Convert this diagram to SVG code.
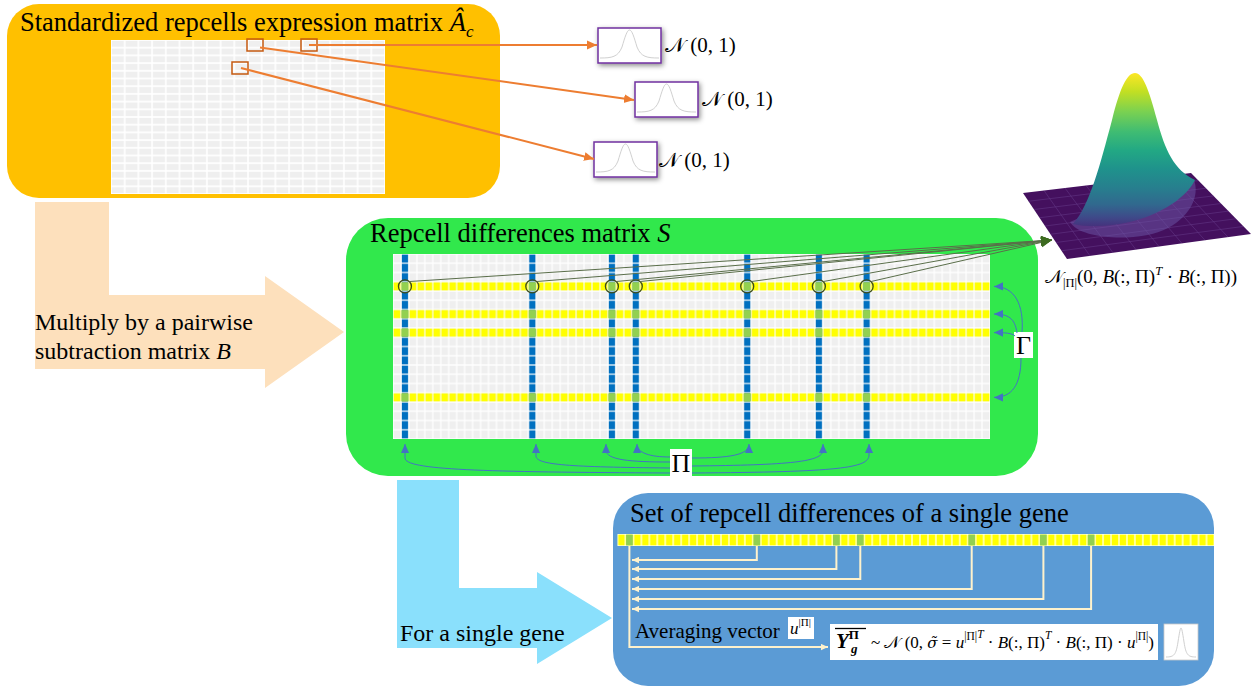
<svg xmlns="http://www.w3.org/2000/svg" width="1255" height="688" viewBox="0 0 1255 688">
<style>
text{font-family:"Liberation Serif","Times New Roman","DejaVu Serif",serif;fill:#000}
.t{font-size:26.5px}
.it{font-style:italic}
.o{stroke:#ed7d31;stroke-width:2;fill:none}
.sel{fill:none;stroke:#c55a11;stroke-width:1.5}
.nb{fill:#fff;stroke:#7030a0;stroke-width:1.5}
.gs{fill:none;stroke:#d0d0d0;stroke-width:1}
.bl{fill:none;stroke:#4472c4;stroke-width:1}
.dg{fill:none;stroke:#5a6e4a;stroke-width:1}
.cr{fill:none;stroke:#fff2cc;stroke-width:2}
.circ{fill:none;stroke:#3d4d1e;stroke-width:1.3}
.gc{fill:#92d050}
.wb{fill:#fff}
.mesh{stroke:#7a55a5;stroke-width:0.6;opacity:0.55}
</style>
<defs>
<pattern id="pOr" x="111" y="40" width="13.7" height="7.7" patternUnits="userSpaceOnUse"><rect x="0.8" y="0.8" width="12.1" height="6.1" fill="#efefef"/></pattern>
<pattern id="pG" x="393" y="254" width="7.96" height="9.25" patternUnits="userSpaceOnUse"><rect x="0.6" y="0.6" width="6.76" height="8.05" fill="#efefef"/></pattern>
<pattern id="pY" x="393" y="254" width="7.96" height="9.25" patternUnits="userSpaceOnUse"><rect x="0.6" y="0.6" width="6.76" height="8.05" fill="#ffff00"/></pattern>
<pattern id="pB" x="393" y="254" width="7.96" height="9.25" patternUnits="userSpaceOnUse"><rect x="0.9" y="0.6" width="6.2" height="8.05" fill="#0070c0"/></pattern>
<pattern id="pY2" x="617.5" y="534" width="7.96" height="12" patternUnits="userSpaceOnUse"><rect x="0.6" y="0.6" width="6.76" height="10.8" fill="#ffff00"/></pattern>
<marker id="mO" viewBox="0 0 10 10" refX="10" refY="5" markerWidth="10" markerHeight="10" markerUnits="userSpaceOnUse" orient="auto"><path d="M0,0.5 L10,5 L0,9.5 z" fill="#ed7d31"/></marker>
<marker id="mB" viewBox="0 0 10 10" refX="10" refY="5" markerWidth="9" markerHeight="9" markerUnits="userSpaceOnUse" orient="auto"><path d="M0,0.5 L10,5 L0,9.5 z" fill="#4472c4"/></marker>
<marker id="mD" viewBox="0 0 10 10" refX="10" refY="5" markerWidth="11" markerHeight="11" markerUnits="userSpaceOnUse" orient="auto"><path d="M0,0.5 L10,5 L0,9.5 z" fill="#3d6b21"/></marker>
<marker id="mC" viewBox="0 0 10 10" refX="10" refY="5" markerWidth="7" markerHeight="7" markerUnits="userSpaceOnUse" orient="auto"><path d="M0,0.5 L10,5 L0,9.5 z" fill="#fff2cc"/></marker>
<linearGradient id="vir" x1="0" y1="73" x2="0" y2="228" gradientUnits="userSpaceOnUse">
<stop offset="0" stop-color="#fde725"/><stop offset="0.12" stop-color="#c2df23"/><stop offset="0.25" stop-color="#7ad151"/><stop offset="0.38" stop-color="#3fbc73"/><stop offset="0.5" stop-color="#22a884"/><stop offset="0.62" stop-color="#1f928c"/><stop offset="0.74" stop-color="#277f8e"/><stop offset="0.85" stop-color="#31688e"/><stop offset="0.93" stop-color="#3e4a89"/><stop offset="1" stop-color="#472d7b"/>
</linearGradient>
<filter id="sh" x="-20%" y="-20%" width="150%" height="170%"><feDropShadow dx="1.5" dy="2" stdDeviation="2.5" flood-color="#000" flood-opacity="0.45"/></filter>
<path id="gcurve" d="M2,33 C14,33 20,32 24,22 C27,12 29,5 31.5,5 C34,5 36,12 39,22 C43,32 49,33 61,33"/>
</defs>

<!-- block arrows -->
<g id="arrow-multiply">
<polygon points="35,202 109,202 109,295 265,295 265,276 344,332 265,388 265,369 35,369" fill="#fde0bc"/>
<text x="35" y="330" font-size="24">Multiply by a pairwise</text>
<text x="35" y="359" font-size="24">subtraction matrix <tspan class="it">B</tspan></text>
</g>
<g id="arrow-single">
<polygon points="397,480 459,480 459,588 537,588 537,572 612,618 537,664 537,648 397,648" fill="#8ae0fc"/>
<text x="400" y="641" font-size="24">For a single gene</text>
</g>

<!-- orange node -->
<g id="node-standardized">
<rect x="7" y="4" width="493" height="194" rx="32" fill="#ffc000"/>
<text class="t" x="20" y="31">Standardized repcells expression matrix <tspan class="it">Â</tspan><tspan class="it" font-size="17" dy="6">c</tspan></text>
<rect x="111" y="40" width="274" height="154" fill="#fff"/>
<rect x="111" y="40" width="274" height="154" fill="url(#pOr)"/>
<rect class="sel" x="247" y="39" width="16" height="12"/>
<rect class="sel" x="301" y="39" width="16" height="12"/>
<rect class="sel" x="232" y="62" width="16" height="12"/>
</g>

<!-- normal boxes -->
<g id="node-n1">
<rect class="nb" x="598" y="28" width="63" height="35" filter="url(#sh)"/>
<use href="#gcurve" class="gs" x="598" y="25"/>
<text x="665" y="52" font-size="21">𝒩 (0, 1)</text>
</g>
<g id="node-n2">
<rect class="nb" x="635" y="82" width="63" height="35" filter="url(#sh)"/>
<use href="#gcurve" class="gs" x="635" y="79"/>
<text x="702" y="106" font-size="21">𝒩 (0, 1)</text>
</g>
<g id="node-n3">
<rect class="nb" x="594" y="142" width="63" height="35" filter="url(#sh)"/>
<use href="#gcurve" class="gs" x="594" y="139"/>
<text x="659" y="167" font-size="21">𝒩 (0, 1)</text>
</g>

<!-- 3D surface -->
<g id="node-surface">
<polygon points="1023,193 1191,173 1251,234 1067,259" fill="#44105e"/>
<g class="mesh">
<line x1="1028.5" y1="201.25" x2="1198.5" y2="180.6"/><line x1="1034" y1="209.5" x2="1206" y2="188.25"/><line x1="1039.5" y1="217.75" x2="1213.5" y2="195.9"/><line x1="1045" y1="226" x2="1221" y2="203.5"/><line x1="1050.5" y1="234.25" x2="1228.5" y2="211.1"/><line x1="1056" y1="242.5" x2="1236" y2="218.75"/><line x1="1061.5" y1="250.75" x2="1243.5" y2="226.4"/>
<line x1="1044" y1="190.5" x2="1090" y2="255.9"/><line x1="1065" y1="188" x2="1113" y2="252.75"/><line x1="1086" y1="185.5" x2="1136" y2="249.6"/><line x1="1107" y1="183" x2="1159" y2="246.5"/><line x1="1128" y1="180.5" x2="1182" y2="243.4"/><line x1="1149" y1="178" x2="1205" y2="240.25"/><line x1="1170" y1="175.5" x2="1228" y2="237.1"/>
</g>
<path d="M1070,222 C1080,240 1140,243 1168,228 C1190,216 1200,196 1194,180 L1120,200 Z" fill="#6b58a8" opacity="0.5"/>
<path d="M1073,224 C1090,205 1100,165 1112,120 C1120,88 1127,73 1135,73 C1143,73 1149,90 1157,120 C1165,150 1174,170 1195,180 C1185,200 1155,218 1120,224 C1100,227 1085,227 1073,224 Z" fill="url(#vir)"/>
<text x="1045" y="283" font-size="19">𝒩<tspan font-size="12.5" dy="4">|Π|</tspan><tspan dy="-4">(0, </tspan><tspan class="it">B</tspan>(:, Π)<tspan class="it" font-size="12.5" dy="-8">T</tspan><tspan dy="8"> · </tspan><tspan class="it">B</tspan>(:, Π))</text>
</g>

<!-- green node -->
<g id="node-differences">
<rect x="346" y="218" width="692" height="258" rx="42" fill="#31e84c"/>
<text class="t" x="370" y="242">Repcell differences matrix <tspan class="it">S</tspan></text>
<rect x="393" y="254" width="597" height="185" fill="#fff"/>
<rect x="393" y="254" width="597" height="185" fill="url(#pG)"/>
<rect x="393" y="281.75" width="597" height="9.25" fill="url(#pY)"/>
<rect x="393" y="309.5" width="597" height="9.25" fill="url(#pY)"/>
<rect x="393" y="328" width="597" height="9.25" fill="url(#pY)"/>
<rect x="393" y="392.75" width="597" height="9.25" fill="url(#pY)"/>
<rect x="400.96" y="254" width="7.96" height="185" fill="url(#pB)"/>
<rect x="528.32" y="254" width="7.96" height="185" fill="url(#pB)"/>
<rect x="607.92" y="254" width="7.96" height="185" fill="url(#pB)"/>
<rect x="631.8" y="254" width="7.96" height="185" fill="url(#pB)"/>
<rect x="743.24" y="254" width="7.96" height="185" fill="url(#pB)"/>
<rect x="814.88" y="254" width="7.96" height="185" fill="url(#pB)"/>
<rect x="862.64" y="254" width="7.96" height="185" fill="url(#pB)"/>
<g class="gc">
<rect x="401.56" y="282.35" width="6.76" height="8.05"/><rect x="528.92" y="282.35" width="6.76" height="8.05"/><rect x="608.52" y="282.35" width="6.76" height="8.05"/><rect x="632.4" y="282.35" width="6.76" height="8.05"/><rect x="743.84" y="282.35" width="6.76" height="8.05"/><rect x="815.48" y="282.35" width="6.76" height="8.05"/><rect x="863.24" y="282.35" width="6.76" height="8.05"/>
<rect x="401.56" y="310.1" width="6.76" height="8.05"/><rect x="528.92" y="310.1" width="6.76" height="8.05"/><rect x="608.52" y="310.1" width="6.76" height="8.05"/><rect x="632.4" y="310.1" width="6.76" height="8.05"/><rect x="743.84" y="310.1" width="6.76" height="8.05"/><rect x="815.48" y="310.1" width="6.76" height="8.05"/><rect x="863.24" y="310.1" width="6.76" height="8.05"/>
<rect x="401.56" y="328.6" width="6.76" height="8.05"/><rect x="528.92" y="328.6" width="6.76" height="8.05"/><rect x="608.52" y="328.6" width="6.76" height="8.05"/><rect x="632.4" y="328.6" width="6.76" height="8.05"/><rect x="743.84" y="328.6" width="6.76" height="8.05"/><rect x="815.48" y="328.6" width="6.76" height="8.05"/><rect x="863.24" y="328.6" width="6.76" height="8.05"/>
<rect x="401.56" y="393.35" width="6.76" height="8.05"/><rect x="528.92" y="393.35" width="6.76" height="8.05"/><rect x="608.52" y="393.35" width="6.76" height="8.05"/><rect x="632.4" y="393.35" width="6.76" height="8.05"/><rect x="743.84" y="393.35" width="6.76" height="8.05"/><rect x="815.48" y="393.35" width="6.76" height="8.05"/><rect x="863.24" y="393.35" width="6.76" height="8.05"/>
</g>
<g class="circ">
<circle cx="404.94" cy="286.4" r="6.5"/><circle cx="532.3" cy="286.4" r="6.5"/><circle cx="611.9" cy="286.4" r="6.5"/><circle cx="635.78" cy="286.4" r="6.5"/><circle cx="747.22" cy="286.4" r="6.5"/><circle cx="818.86" cy="286.4" r="6.5"/><circle cx="866.62" cy="286.4" r="6.5"/>
</g>
</g>

<!-- blue node -->
<g id="node-single-gene">
<rect x="613" y="493" width="601" height="193" rx="35" fill="#5b9bd5"/>
<text class="t" x="630" y="522">Set of repcell differences of a single gene</text>
<rect x="617.5" y="534" width="596.5" height="12" fill="#fff"/>
<rect x="617.5" y="534" width="596.5" height="12" fill="url(#pY2)"/>
<g class="gc">
<rect x="626.06" y="534.6" width="6.76" height="10.8"/><rect x="753.42" y="534.6" width="6.76" height="10.8"/><rect x="833.02" y="534.6" width="6.76" height="10.8"/><rect x="856.9" y="534.6" width="6.76" height="10.8"/><rect x="968.34" y="534.6" width="6.76" height="10.8"/><rect x="1039.98" y="534.6" width="6.76" height="10.8"/><rect x="1087.74" y="534.6" width="6.76" height="10.8"/>
</g>
<text x="635" y="638" font-size="21">Averaging vector</text>
<rect class="wb" x="788" y="617" width="26" height="22"/>
<text x="790" y="634" font-size="17" class="it">u<tspan font-size="11" dy="-8" font-style="normal">|Π|</tspan></text>
<rect class="wb" x="830" y="624" width="328" height="36"/>
<line x1="835" y1="628.5" x2="866" y2="628.5" stroke="#000" stroke-width="1.3"/>
<text x="836" y="648" font-size="17"><tspan font-weight="bold" font-style="italic" font-size="21">Y</tspan><tspan font-weight="bold" font-size="13" dy="-9">Π</tspan><tspan font-weight="bold" font-style="italic" font-size="13" x="851" dy="14">g</tspan><tspan x="871" dy="-5">~ 𝒩 (0, </tspan><tspan font-family="DejaVu Serif" font-style="italic" font-size="15">σ̃</tspan><tspan> = </tspan><tspan class="it">u</tspan><tspan font-size="11.5" dy="-8">|Π|</tspan><tspan class="it" font-size="11.5" dy="-2">T</tspan><tspan dy="10"> · </tspan><tspan class="it">B</tspan>(:, Π)<tspan class="it" font-size="11.5" dy="-9">T</tspan><tspan dy="9"> · </tspan><tspan class="it">B</tspan>(:, Π) · <tspan class="it">u</tspan><tspan font-size="11.5" dy="-8">|Π|</tspan><tspan dy="8">)</tspan></text>
<rect x="1164" y="624" width="34" height="36" fill="#fff" stroke="#c8c8c8" stroke-width="0.8"/>
<path class="gs" d="M1166,657 C1174,657 1176,655 1178,642 C1179.5,632 1180.3,628 1181,628 C1181.7,628 1182.5,632 1184,642 C1186,655 1188,657 1196,657"/>
</g>

<!-- labels -->
<g id="node-gamma">
<rect class="wb" x="1014" y="332" width="19" height="26"/>
<text x="1023.5" y="354" font-size="26" text-anchor="middle">Γ</text>
</g>
<g id="node-pi">
<rect class="wb" x="670" y="449" width="22" height="27"/>
<text x="681" y="472" font-size="26" text-anchor="middle">Π</text>
</g>

<!-- connectors -->
<g id="connectors">
<path class="o" d="M309,45 L597,45" marker-end="url(#mO)"/>
<path class="o" d="M260,47.5 L634,100" marker-end="url(#mO)"/>
<path class="o" d="M241,68 L594,159" marker-end="url(#mO)"/>
<g class="dg">
<path d="M409.5,281.5 L1052,240" marker-end="url(#mD)"/>
<path d="M536.8,281.5 L1052,240" marker-end="url(#mD)"/>
<path d="M616.4,281.5 L1052,240" marker-end="url(#mD)"/>
<path d="M640.3,281.5 L1052,240" marker-end="url(#mD)"/>
<path d="M751.7,281.5 L1052,240" marker-end="url(#mD)"/>
<path d="M823.4,281.5 L1052,240" marker-end="url(#mD)"/>
<path d="M871.1,281.5 L1052,240" marker-end="url(#mD)"/>
</g>
<g class="bl">
<path d="M1022,332 C1024,305 1015,286.4 994,286.4" marker-end="url(#mB)"/>
<path d="M1017,333 C1015,318 1008,314 994,314" marker-end="url(#mB)"/>
<path d="M1015,336 C1012,333 1005,332.6 994,332.6" marker-end="url(#mB)"/>
<path d="M1021,358 C1021,385 1012,397.4 994,397.4" marker-end="url(#mB)"/>
<path d="M670,473 C480,472 405,470 405,458 L405,444" marker-end="url(#mB)"/>
<path d="M670,468 C570,467 536,465 536,456 L536,444" marker-end="url(#mB)"/>
<path d="M670,462 C630,462 606,460 606,450 L606,444" marker-end="url(#mB)"/>
<path d="M670,457 C650,457 637,453 637,444" marker-end="url(#mB)"/>
<path d="M692,458 C730,458 749,455 749,444" marker-end="url(#mB)"/>
<path d="M692,466 C790,465 823,462 823,450 L823,444" marker-end="url(#mB)"/>
<path d="M692,473 C840,472 869,468 869,455 L869,444" marker-end="url(#mB)"/>
</g>
<g class="cr">
<path d="M629.4,546 V647 H828" marker-end="url(#mC)"/>
<path d="M756.8,546 V560 H632" marker-end="url(#mC)"/>
<path d="M836.4,546 V569 H632" marker-end="url(#mC)"/>
<path d="M860.3,546 V579 H632" marker-end="url(#mC)"/>
<path d="M971.7,546 V589 H632" marker-end="url(#mC)"/>
<path d="M1043.4,546 V599 H632" marker-end="url(#mC)"/>
<path d="M1091.1,546 V609 H632" marker-end="url(#mC)"/>
</g>
</g>
</svg>
